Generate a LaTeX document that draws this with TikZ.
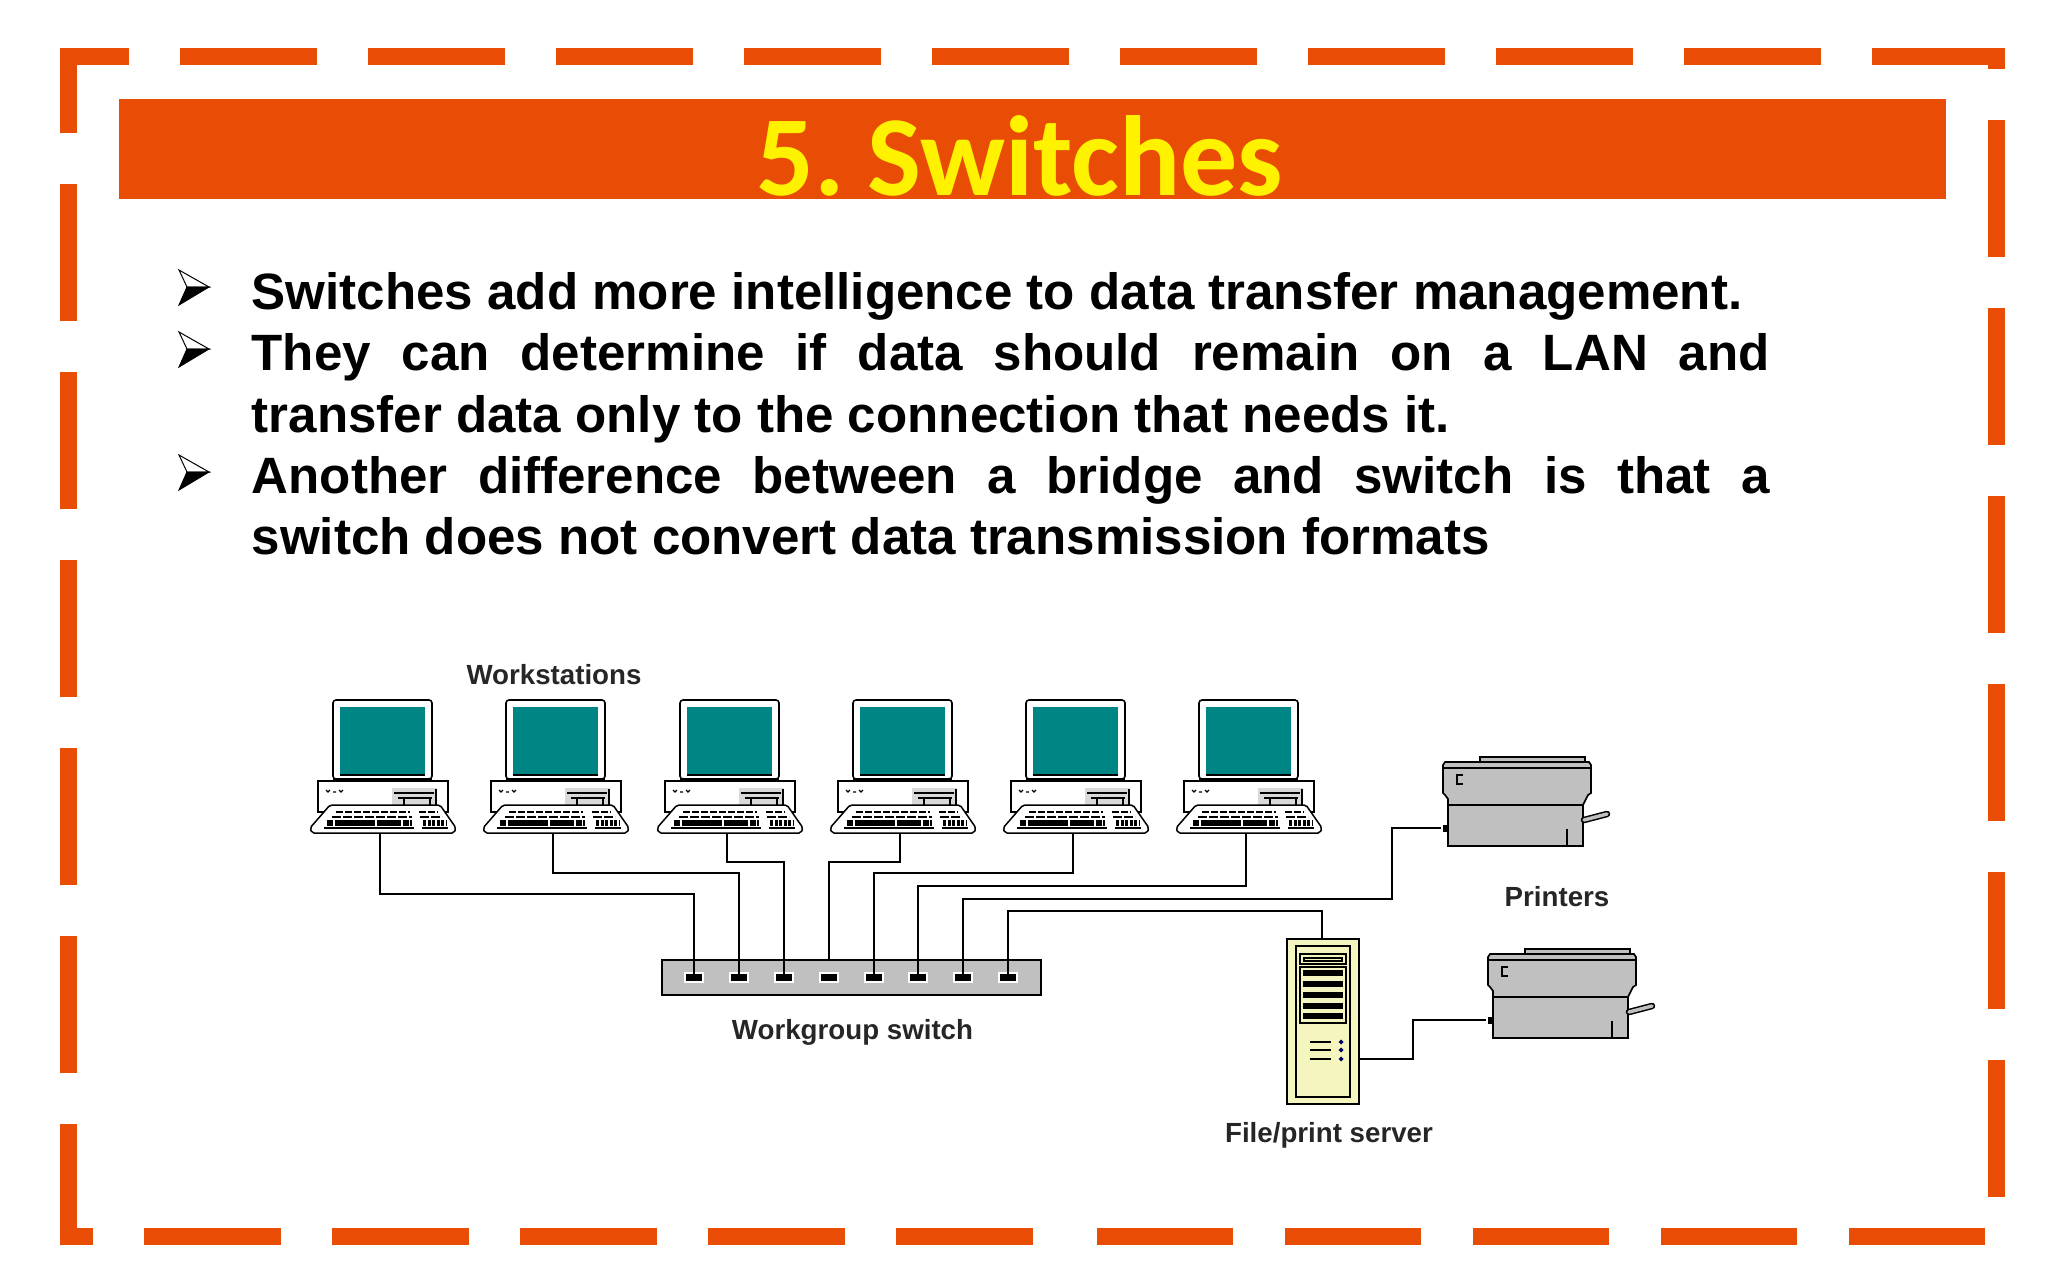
\documentclass[tikz,border=0pt]{standalone}
\usepackage{fontspec}
\setmainfont{Liberation Sans}
\newfontfamily\titlefont{Carlito}
\definecolor{bandorange}{HTML}{E84C05}
\definecolor{screenteal}{HTML}{008585}
\definecolor{boxgrey}{HTML}{C0C0C0}
\definecolor{serverpale}{HTML}{F5F5C0}
\tikzset{
  wire/.style={line width=1.7pt,black},
  para/.style={anchor=north west,text width=1518pt,align=justify,inner sep=0pt,
    font=\fontsize{51.1}{61.6}\selectfont\bfseries},
  tag/.style={inner sep=0pt,text=black!85,font=\fontsize{27.7}{30}\selectfont\bfseries},
  port/.style={fill=black,minimum width=16pt,minimum height=7pt,inner sep=0pt,outer sep=0pt},
  arrowbullet/.pic={
    \draw[line width=1pt,fill=white,line join=miter] (0,-17) -- (30,0) -- (8,0) -- cycle;
    \draw[line width=1pt,fill=black,line join=miter] (0,18) -- (30,0) -- (8,0) -- cycle;
  },
  workstation/.pic={
    \draw[line width=1.6pt,fill=white,rounded corners=3pt] (-49,0) rectangle (50,79);
    \fill[screenteal] (-42,7) rectangle (43,75);
    \draw[line width=2.2pt] (-42,75) -- (43,75) (-49,79.5) -- (50,79.5);
    \draw[line width=1.6pt,fill=white] (-64,81) rectangle (66,112);
    \draw[line width=1.3pt] (-56,90) -- (-54,92) -- (-52,90) (-49,92) -- (-46,92) (-43,90) -- (-41,92) -- (-39,90);
    \fill[black!15] (10,88) rectangle (55,105);
    \draw[line width=1.6pt] (12,93) -- (52,93) (16,98) -- (50,98) (22,98) -- (22,105) (48,98) -- (48,105) (54,89) -- (54,105);
    \draw[line width=1.5pt,fill=white,rounded corners=2pt] (-52,105) -- (58,105) -- (74,128) -- (72,133) -- (-70,133) -- (-72,128) -- cycle;
    \draw[line width=1.5pt,dash pattern=on 7pt off 2pt] (-46,112) -- (28,112) (37,112) -- (56,112);
    \draw[line width=1.5pt,dash pattern=on 9pt off 2pt] (-50,117) -- (30,117) (38,117) -- (60,117);
    \draw[line width=6pt,dash pattern=on 6pt off 1.5pt on 40pt off 2pt on 24pt off 2pt] (-55,123) -- (30,123);
    \draw[line width=6pt,dash pattern=on 3pt off 1.5pt] (41,123) -- (64,123);
    \draw[line width=1.5pt] (-58,128) -- (32,128) (40,128) -- (66,128);
    \coordinate (-foot) at (-2,133);
  },
  printer/.pic={
    \draw[line width=1.5pt,fill=boxgrey] (37,5) -- (37,0) -- (142,0) -- (142,5);
    \draw[line width=1.7pt,fill=boxgrey] (0,8) -- (2,5) -- (146,5) -- (148,8) -- (148,36) -- (145,38) -- (143,42) -- (140,48) -- (5,48) -- (5,42) -- (2,38) -- (0,36) -- cycle;
    \draw[line width=2pt] (0,11) -- (148,11);
    \draw[line width=1.7pt,fill=boxgrey] (5,48) rectangle (140,89);
    \draw[line width=1.7pt] (124,72) -- (124,89);
    \draw[line width=2.2pt] (20,18) -- (14,18) -- (14,27) -- (20,27);
    \draw[line width=6.5pt,line cap=round] (141,63) -- (164,57);
    \draw[line width=3.5pt,line cap=round,boxgrey] (141,63) -- (164,57);
    \fill (0,68) rectangle (5,75);
    \coordinate (-plug) at (-2,71);
  },
  server/.pic={
    \draw[line width=1.7pt,fill=serverpale] (0,0) rectangle (72,165);
    \draw[line width=1.7pt] (9,7) rectangle (63,158);
    \draw[line width=1.5pt] (13,15) rectangle (59,25) (17,19) rectangle (55,22);
    \draw[line width=1.7pt] (13,28) rectangle (59,84);
    \foreach \y in {34,45,56,67,77}
      \fill (16,\y-3) rectangle (56,\y+3);
    \foreach \y in {103,111,120}{
      \draw[line width=1.4pt] (23,\y) -- (44,\y);
      \fill[blue!40!black] (54,\y-2.5) -- (56.5,\y) -- (54,\y+2.5) -- (51.5,\y) -- cycle;
    }
    \coordinate (-top) at (35,0);
    \coordinate (-right) at (72,120);
  },
}
\begin{document}
\begin{tikzpicture}[x=1pt,y=-1pt]
\useasboundingbox (0,0) rectangle (2048,1280);
% dashed frame
\draw[bandorange,line width=17pt,dash pattern=on 136.7pt off 51.3pt]
(1032.6,1236.8) -- (68.5,1236.8) -- (68.5,56.7) -- (1996.7,56.7) -- (1996.7,1236.8) -- (1090,1236.8);
% title
\node[fill=bandorange,minimum width=1827pt,minimum height=99.4pt,inner sep=0pt] (band) at (1032.5,149) {};
\node[anchor=base,inner sep=0pt,text=yellow,font=\titlefont\fontsize{114}{114}\selectfont\bfseries] (title) at (1020,195.5) {5.\hspace{.2em}Switches};
% text
\pic (m1) at (179,287) {arrowbullet};
\pic (m2) at (179,349) {arrowbullet};
\pic (m3) at (179,472) {arrowbullet};
\node[para] (t1) at (251.5,272) {Switches add more intelligence to data transfer management.};
\node[para] (t2) at (251.5,333.5) {They can determine if data should remain on a LAN and\linebreak transfer data only to the connection that needs it.};
\node[para] (t3) at (251.5,456) {Another difference between a bridge and switch is that a\linebreak switch does not convert data transmission formats};
% machines
\foreach \i/\x in {1/382,2/555,3/729,4/902,5/1075,6/1248}
  \pic (ws\i) at (\x,700) {workstation};
\pic (pr1) at (1443,757) {printer};
\pic (pr2) at (1488,949) {printer};
\pic (srv) at (1287,939) {server};
% switch
\node[draw,line width=1.7pt,fill=boxgrey,minimum width=379pt,minimum height=35pt,inner sep=0pt] (sw) at (851.5,977.5) {};
\foreach \i/\x in {1/694,2/739,3/784,4/829,5/874,6/918,7/963,8/1008}{
  \node[port,draw=white,line width=4pt] (p\i) at (\x,977) {};
}
% wires
\foreach \i/\d in {1/61,2/40,3/29,5/40,6/53}
  \draw[wire] (ws\i-foot) -- ++(0,\d) -| (p\i.center);
\draw[wire] (ws4-foot) -- ++(0,29) -| (p4.north |- sw.north);
\draw[wire] (pr1-plug) -- ++(-49,0) -- ++(0,71) -| (p7.center);
\draw[wire] (srv-top) -- ++(0,-28) -| (p8.center);
\draw[wire] (srv-right) -- ++(54,0) |- (pr2-plug);
\foreach \i in {1,...,8}
  \fill (p\i.north west) rectangle (p\i.south east);
% labels
\node[tag] (lbws) at (554,675) {Workstations};
\node[tag] (lbpr) at (1557,897) {Printers};
\node[tag] (lbsw) at (852.5,1032.5) {Workgroup switch};
\node[tag] (lbsrv) at (1329,1135.5) {File/print server};
\end{tikzpicture}
\end{document}
